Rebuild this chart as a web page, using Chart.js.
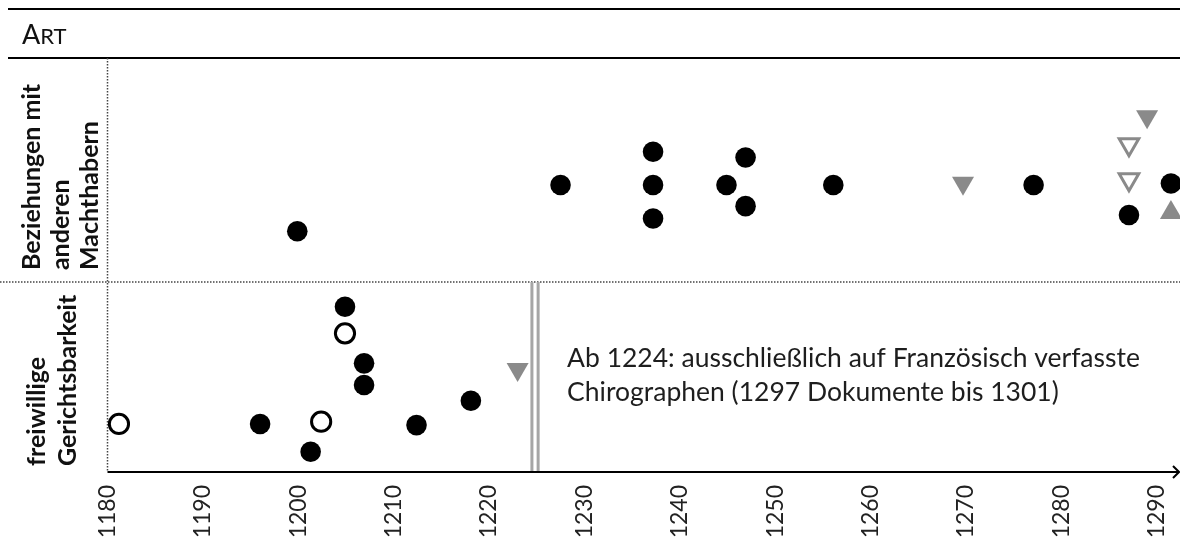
<!DOCTYPE html>
<html>
<head>
<meta charset="utf-8">
<script src="https://cdn.jsdelivr.net/npm/chart.js@4.4.1/dist/chart.umd.min.js"></script>
<style>
  html, body { margin: 0; padding: 0; background: #fff; }
  #wrap { width: 1180px; height: 540px; position: relative; }
</style>
</head>
<body>
<div id="wrap"><canvas id="timeline"></canvas></div>
<script>
// x = Jahr, y = Lage in der Zeile (0-10 unten: freiwillige Gerichtsbarkeit, 10-21.8 oben: Beziehungen)
const yearTicks = [1180, 1190, 1200, 1210, 1220, 1230, 1240, 1250, 1260, 1270, 1280, 1290];
const rowLabels = [
  ['Beziehungen mit', 'anderen', 'Machthabern'],
  ['freiwillige', 'Gerichtsbarkeit']
];
const splitYears = [1224.5, 1225.15];
const noteLines = [
  'Ab 1224: ausschließlich auf Französisch verfasste',
  'Chirographen (1297 Dokumente bis 1301)'
];

// schwarze Punkte
const filledX = [1196.0, 1201.3, 1204.9, 1206.9, 1206.9, 1212.4, 1218.1,
                 1199.9, 1227.5, 1237.2, 1237.2, 1237.2, 1244.9, 1246.9, 1246.9, 1256.1, 1277.1, 1287.1, 1291.5];
const filledY = [2.53, 1.07, 8.70, 5.72, 4.58, 2.47, 3.75,
                 12.68, 15.11, 16.86, 15.11, 13.35, 15.11, 16.56, 14.0, 15.11, 15.11, 13.53, 15.19];
// offene Kreise
const openX = [1181.2, 1202.4, 1204.9];
const openY = [2.53, 2.65, 7.30];
// graue Dreiecke (Spitze unten)
const triDownX = [1223.0, 1269.7, 1289.0];
const triDownY = [5.41, 15.21, 18.72];
// offene graue Dreiecke
const openTriX = [1287.1, 1287.1];
const openTriY = [17.25, 15.41];
// graues Dreieck (Spitze oben)
const triUpX = [1291.5];
const triUpY = [13.66];

const pts = (xs, ys) => xs.map((x, i) => ({ x: x, y: ys[i] }));
const grey = '#8a8a8a';

const frame = {
  id: 'frame',
  beforeDatasetsDraw(chart) {
    const ctx = chart.ctx;
    const xs = chart.scales.x, ys = chart.scales.y;
    const L = xs.left, R = chart.width, T = ys.top, B = ys.bottom;
    const mid = ys.getPixelForValue(10);
    ctx.save();

    // Kopfzeile
    ctx.strokeStyle = '#000';
    ctx.lineWidth = 2;
    ctx.beginPath();
    ctx.moveTo(8, 9); ctx.lineTo(R, 9);
    ctx.moveTo(8, T); ctx.lineTo(R, T);
    ctx.stroke();
    ctx.fillStyle = '#111';
    ctx.textBaseline = 'alphabetic';
    ctx.font = '27px Lato';
    ctx.fillText('A', 22, 44);
    const aw = ctx.measureText('A').width;
    ctx.font = '22px Lato';
    ctx.fillText('RT', 22 + aw, 44);

    // gepunktete Linien
    ctx.strokeStyle = '#444';
    ctx.lineWidth = 1.5;
    ctx.setLineDash([1.5, 1.5]);
    ctx.beginPath();
    ctx.moveTo(L, T); ctx.lineTo(L, B);
    ctx.moveTo(0, mid); ctx.lineTo(R, mid);
    ctx.stroke();
    ctx.setLineDash([]);

    // Doppellinie 1224
    ctx.strokeStyle = '#a6a6a6';
    ctx.lineWidth = 3;
    ctx.beginPath();
    splitYears.forEach(v => {
      const px = xs.getPixelForValue(v);
      ctx.moveTo(px, mid); ctx.lineTo(px, B);
    });
    ctx.stroke();

    // x-Achse mit Pfeil
    ctx.strokeStyle = '#000';
    ctx.lineWidth = 2;
    ctx.beginPath();
    ctx.moveTo(L, B); ctx.lineTo(R - 1, B);
    ctx.moveTo(R - 7, B - 6); ctx.lineTo(R - 1, B); ctx.lineTo(R - 7, B + 6);
    ctx.stroke();

    // Zeilenbeschriftung
    ctx.fillStyle = '#111';
    ctx.font = 'bold 25px Lato';
    const cols = [[40, 69, 98], [45, 76]];
    const starts = [mid - 12, B - 6];
    rowLabels.forEach((lines, r) => {
      lines.forEach((t, i) => {
        ctx.save();
        ctx.translate(cols[r][i], starts[r]);
        ctx.rotate(-Math.PI / 2);
        ctx.textAlign = 'left';
        ctx.fillText(t, 0, 0);
        ctx.restore();
      });
    });

    // Hinweis
    ctx.font = '26.5px Lato';
    ctx.fillStyle = '#1e1e1e';
    const nx = xs.getPixelForValue(splitYears[1]) + 29;
    ctx.fillText(noteLines[0], nx, 367);
    ctx.fillText(noteLines[1], nx, 401);
    ctx.restore();
  }
};

new Chart(document.getElementById('timeline'), {
  type: 'scatter',
  data: {
    datasets: [
      { data: pts(filledX, filledY), pointStyle: 'circle', pointRadius: 10.3,
        backgroundColor: '#000', borderColor: '#000', borderWidth: 0 },
      { data: pts(openX, openY), pointStyle: 'circle', pointRadius: 9.6,
        backgroundColor: '#fff', borderColor: '#000', borderWidth: 3 },
      { data: pts(triDownX, triDownY), pointStyle: 'triangle', pointRotation: 180, pointRadius: 12.7,
        backgroundColor: grey, borderColor: grey, borderWidth: 0 },
      { data: pts(openTriX, openTriY), pointStyle: 'triangle', pointRotation: 180, pointRadius: 11.3,
        backgroundColor: '#fff', borderColor: grey, borderWidth: 3 },
      { data: pts(triUpX, triUpY), pointStyle: 'triangle', pointRadius: 12.7,
        backgroundColor: grey, borderColor: grey, borderWidth: 0 }
    ]
  },
  options: {
    responsive: true,
    maintainAspectRatio: false,
    animation: false,
    events: [],
    layout: { autoPadding: false, padding: { left: 107.5, top: 58, right: 0, bottom: 0 } },
    plugins: { legend: { display: false }, tooltip: { enabled: false } },
    scales: {
      x: {
        type: 'linear',
        min: 1180,
        max: 1292.45,
        afterBuildTicks: s => { s.ticks = yearTicks.map(v => ({ value: v })); },
        afterFit: s => { s.height = 68; s.paddingLeft = 0; s.paddingRight = 0; },
        grid: { display: false, drawTicks: false },
        border: { display: false },
        ticks: {
          autoSkip: false,
          minRotation: 90,
          maxRotation: 90,
          padding: 13,
          color: '#222',
          font: { family: 'Lato', size: 23 },
          callback: v => String(v)
        }
      },
      y: {
        type: 'linear',
        display: false,
        min: 0,
        max: 21.8
      }
    }
  },
  plugins: [frame]
});
</script>
</body>
</html>
